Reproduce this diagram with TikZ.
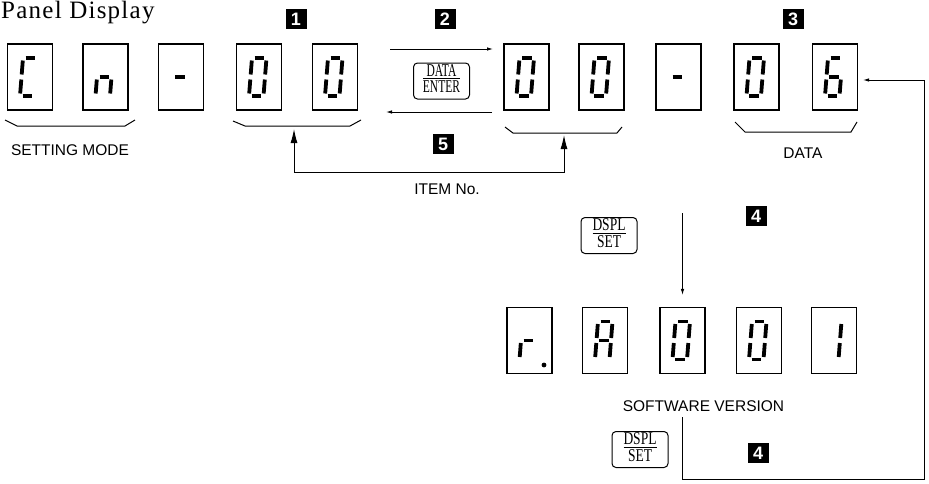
\documentclass[tikz,border=0pt]{standalone}
\usepackage{fontspec}
\setmainfont{Liberation Serif}
\newfontfamily\labfont{Liberation Sans}
\newfontfamily\titlefont[LetterSpace=5]{Liberation Serif}
\usetikzlibrary{arrows.meta}
\newcommand\sA{\draw[seg] (-4.5,-19)--(5,-19);}
\newcommand\sB{\draw[seg] (7.3,-16.5)--(6.2,-2.5);}
\newcommand\sC{\draw[seg] (5.8,2.5)--(4.7,16.5);}
\newcommand\sD{\draw[seg] (-7.5,19)--(2,19);}
\newcommand\sE{\draw[seg] (-8.7,2.5)--(-9.8,16.5);}
\newcommand\sF{\draw[seg] (-7.2,-16.5)--(-8.3,-2.5);}
\newcommand\sG{\draw[seg] (-6,0)--(3.5,0);}
\newcommand\digitin[2]{\begin{scope}[shift={(#1.center)}]#2\end{scope}}
\newcommand\keytext[3]{\scalebox{#3}[1]{\begin{tabular}{@{}c@{}}#1\\[-3pt]\hline\rule{0pt}{14pt}#2\end{tabular}}}
\tikzset{
 dbox/.style={draw, line width=1.1pt, minimum width=45pt, minimum height=66pt, inner sep=0pt},
 seg/.style={line width=3.8pt},
 lab/.style={font=\labfont\fontsize{15.5}{16}\selectfont, inner sep=0pt},
 marker/.style={fill=black, text=white, font=\labfont\bfseries\fontsize{18}{18}\selectfont, minimum width=21pt, minimum height=20pt, inner sep=0pt},
 btn/.style={draw, rounded corners=4pt, line width=1pt, minimum width=56pt, minimum height=36pt, inner sep=0pt, font=\fontsize{18}{16}\selectfont},
 brace/.style={line width=1pt},
 thinarr/.style={line width=0.9pt, -{Latex[length=6pt,width=3.5pt]}},
 bigline/.style={line width=1pt},
}
\begin{document}
\begin{tikzpicture}[x=1pt,y=-1pt]
\useasboundingbox (0,0) rectangle (929,483);
\node[anchor=base west, inner sep=0pt] (title) at (1,18) {\titlefont\fontsize{25}{25}\selectfont Panel Display};
% top row
\node[dbox] (t1) at (30,77) {};
\node[dbox] (t2) at (105.5,77) {};
\node[dbox] (t3) at (181,77) {};
\node[dbox] (t4) at (259,77) {};
\node[dbox] (t5) at (335,77) {};
\node[dbox] (t6) at (526.5,77) {};
\node[dbox] (t7) at (601.5,77) {};
\node[dbox] (t8) at (678.5,77) {};
\node[dbox] (t9) at (756.5,77) {};
\node[dbox] (t10) at (835,77) {};
\digitin{t1}{\sA\sD\sE\sF}
\digitin{t2}{\sC\sE\sG}
\digitin{t3}{\sG}
\digitin{t4}{\sA\sB\sC\sD\sE\sF}
\digitin{t5}{\sA\sB\sC\sD\sE\sF}
\digitin{t6}{\sA\sB\sC\sD\sE\sF}
\digitin{t7}{\sA\sB\sC\sD\sE\sF}
\digitin{t8}{\sG}
\digitin{t9}{\sA\sB\sC\sD\sE\sF}
\digitin{t10}{\sA\sC\sD\sE\sF\sG}
% bottom row
\node[dbox] (b1) at (529.5,340.5) {};
\node[dbox] (b2) at (605,340.5) {};
\node[dbox] (b3) at (682.5,340.5) {};
\node[dbox] (b4) at (759,340.5) {};
\node[dbox] (b5) at (834,340.5) {};
\digitin{b1}{\sE\sG\fill (14.5,24.5) circle (2.4);}
\digitin{b2}{\sA\sB\sC\sE\sF\sG}
\digitin{b3}{\sA\sB\sC\sD\sE\sF}
\digitin{b4}{\sA\sB\sC\sD\sE\sF}
\digitin{b5}{\sB\sC}
% braces
\draw[brace] (5,120)--(17,126)--(125,126)--(135,120);
\draw[brace] (233,121)--(245,126)--(350,126)--(361,120);
\draw[brace] (505,127)--(513,133)--(617,133)--(622,127);
\draw[brace] (735,122)--(745,132)--(851,132)--(857,122);
% markers
\node[marker] (m1) at (296,19) {1};
\node[marker] (m2) at (445,19) {2};
\node[marker] (m3) at (793,19) {3};
\node[marker] (m5) at (443,144) {5};
\node[marker] (m4a) at (756,216) {4};
\node[marker] (m4b) at (758,453) {4};
% labels
\node[lab] (setting) at (70,150) {SETTING MODE};
\node[lab] (item) at (447,189) {ITEM No.};
\node[lab] (data) at (803,153) {DATA};
\node[lab] (soft) at (703.5,406) {SOFTWARE VERSION};
% buttons
\node[btn] (de) at (441.5,81) {\keytext{DATA}{ENTER}{0.64}};
\node[btn] (ds1) at (609,235.5) {\keytext{DSPL}{SET}{0.75}};
\node[btn] (ds2) at (640,449.5) {\keytext{DSPL}{SET}{0.75}};
% arrows between top groups
\coordinate (a1) at (390,49);
\coordinate (a2) at (493,49);
\coordinate (a3) at (492,112);
\coordinate (a4) at (386,112);
\draw[thinarr] (a1) -- (a2);
\draw[thinarr] (a3) -- (a4);
% item arrows
\coordinate (ia) at (294,129);
\coordinate (ib) at (294,172);
\coordinate (ic) at (564,172);
\coordinate (id) at (564,135);
\draw[bigline, {Latex[length=14pt,width=7pt]}-{Latex[length=14pt,width=7pt]}] (ia) -- (ib) -- (ic) -- (id);
% DSPL arrow down
\coordinate (v0) at (682.5,213);
\draw[thinarr, shorten >=12pt] (v0) -- (b3.north);
% return path
\coordinate (r0) at (682.5,417);
\coordinate (r1) at (682.5,479);
\coordinate (r2) at (924,479);
\coordinate (r3) at (924,80);
\draw[thinarr, shorten >=5pt] (r0) -- (r1) -- (r2) -- (r3) -- ([yshift=-3pt]t10.east);
\end{tikzpicture}
\end{document}
